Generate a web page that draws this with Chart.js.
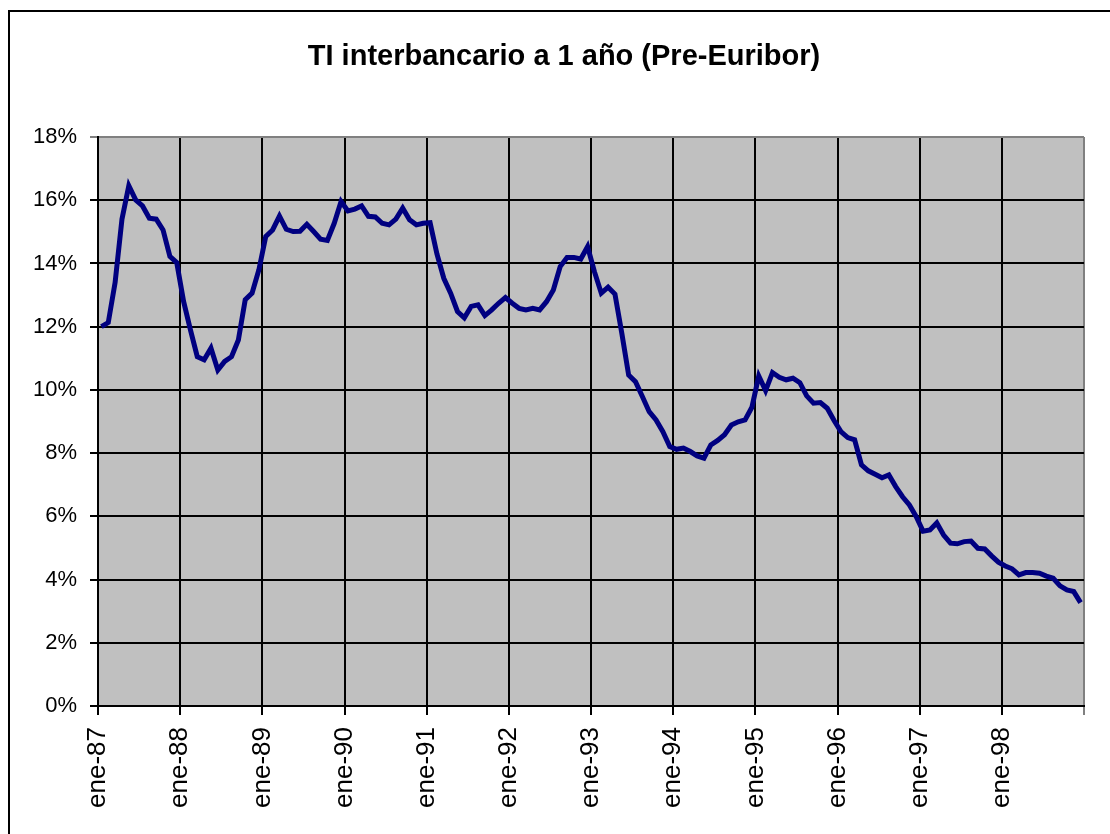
<!DOCTYPE html>
<html>
<head>
<meta charset="utf-8">
<script src="https://cdn.jsdelivr.net/npm/chart.js@4/dist/chart.umd.min.js"></script>
<style>
  html, body { margin: 0; padding: 0; background: #fff; overflow: hidden; }
  #wrap { position: relative; width: 1110px; height: 834px; }
  #frame { position: absolute; left: 8px; top: 10px; width: 1200px; height: 1000px; border: 2px solid #000; box-sizing: border-box; }
  canvas { position: absolute; left: 0; top: 0; }
</style>
</head>
<body>
<div id="wrap">
  <div id="frame"></div>
  <canvas id="c" width="1110" height="834"></canvas>
</div>
<script>
const chartTitle = 'TI interbancario a 1 año (Pre-Euribor)';
const tickLabels = ['ene-87','ene-88','ene-89','ene-90','ene-91','ene-92','ene-93','ene-94','ene-95','ene-96','ene-97','ene-98'];
const yTicks = [0, 2, 4, 6, 8, 10, 12, 14, 16, 18];
// monthly values (%) from ene-87 to dic-98
const rate1987 = [12.0, 12.13, 13.4, 15.4, 16.46, 16.01, 15.82, 15.43, 15.40, 15.06, 14.22, 14.03];
const rate1988 = [12.8, 11.9, 11.05, 10.95, 11.32, 10.63, 10.9, 11.05, 11.58, 12.85, 13.06, 13.8];
const rate1989 = [14.85, 15.06, 15.5, 15.08, 15.01, 15.02, 15.24, 15.01, 14.77, 14.73, 15.27, 15.96];
const rate1990 = [15.66, 15.72, 15.82, 15.49, 15.47, 15.27, 15.22, 15.4, 15.75, 15.38, 15.22, 15.27];
const rate1991 = [15.29, 14.3, 13.53, 13.06, 12.48, 12.28, 12.64, 12.69, 12.35, 12.53, 12.74, 12.92];
const rate1992 = [12.74, 12.58, 12.53, 12.58, 12.53, 12.79, 13.16, 13.9, 14.19, 14.19, 14.14, 14.53];
const rate1993 = [13.74, 13.06, 13.25, 13.03, 11.79, 10.47, 10.26, 9.79, 9.31, 9.05, 8.68, 8.21];
const rate1994 = [8.12, 8.16, 8.05, 7.91, 7.84, 8.26, 8.4, 8.58, 8.89, 8.99, 9.05, 9.45];
const rate1995 = [10.44, 9.98, 10.55, 10.4, 10.32, 10.37, 10.23, 9.81, 9.58, 9.6, 9.42, 9.03];
const rate1996 = [8.68, 8.49, 8.42, 7.63, 7.44, 7.33, 7.22, 7.31, 6.94, 6.62, 6.36, 5.99];
const rate1997 = [5.53, 5.57, 5.79, 5.41, 5.15, 5.13, 5.2, 5.22, 4.99, 4.97, 4.75, 4.55];
const rate1998 = [4.43, 4.34, 4.15, 4.22, 4.22, 4.2, 4.11, 4.04, 3.8, 3.67, 3.62, 3.27];

const values = [].concat(rate1987, rate1988, rate1989, rate1990, rate1991, rate1992,
  rate1993, rate1994, rate1995, rate1996, rate1997, rate1998);
const monthsPerYear = 12;
const points = values.map((v, i) => ({ x: i + 0.5, y: v }));

const plotBg = {
  id: 'plotBg',
  afterLayout(chart) {
    // let the y tick labels use the space left of the scale box (no clipping)
    chart.scales.y.left = 0;
  },
  beforeDraw(chart) {
    const { ctx, chartArea: a } = chart;
    ctx.save();
    ctx.fillStyle = '#C0C0C0';
    ctx.fillRect(a.left, a.top, a.right - a.left, a.bottom - a.top);
    ctx.restore();
  }
};

const fontFamily = 'Liberation Sans, Arial, sans-serif';

new Chart(document.getElementById('c'), {
  type: 'line',
  data: {
    datasets: [{
      data: points,
      borderColor: '#000080',
      borderWidth: 5,
      pointRadius: 0,
      tension: 0,
      fill: false
    }]
  },
  options: {
    responsive: false,
    animation: false,
    devicePixelRatio: 1,
    layout: { padding: { left: 44, right: 26, top: 0, bottom: 0 } },
    plugins: {
      legend: { display: false },
      tooltip: { enabled: false },
      title: {
        display: true,
        text: chartTitle,
        color: '#000',
        font: { family: fontFamily, size: 29, weight: 'bold', lineHeight: 1.2 },
        padding: { top: 40, bottom: 62.2 }
      }
    },
    scales: {
      x: {
        type: 'linear',
        min: 0,
        max: tickLabels.length * monthsPerYear,
        afterFit(s) { s.height = 128; s.paddingLeft = 0; s.paddingRight = 0; },
        afterBuildTicks(s) {
          s.ticks = [];
          for (let k = 0; k <= tickLabels.length; k++) s.ticks.push({ value: k * monthsPerYear });
        },
        ticks: {
          autoSkip: false,
          minRotation: 90,
          maxRotation: 90,
          padding: 12,
          color: '#000',
          font: { family: fontFamily, size: 26 },
          callback(v) { const k = Math.round(v / monthsPerYear); return tickLabels[k] || ''; }
        },
        grid: {
          color(ctx) { return ctx.tick && ctx.tick.value === tickLabels.length * monthsPerYear ? '#808080' : '#000'; },
          lineWidth: 2,
          tickLength: 9,
          drawOnChartArea: true
        },
        border: { color: '#000', width: 2 }
      },
      y: {
        min: 0,
        max: 18,
        afterFit(s) { s.width = 54; s.paddingTop = 0; s.paddingBottom = 0; },
        afterBuildTicks(s) { s.ticks = yTicks.map(v => ({ value: v })); },
        ticks: {
          padding: 13,
          color: '#000',
          font: { family: fontFamily, size: 22 },
          callback(v) { return v + '%'; }
        },
        grid: {
          color(ctx) { return ctx.tick && ctx.tick.value === 18 ? '#808080' : '#000'; },
          lineWidth: 2,
          tickLength: 8
        },
        border: { color: '#000', width: 2 }
      }
    }
  },
  plugins: [plotBg]
});
</script>
</body>
</html>
